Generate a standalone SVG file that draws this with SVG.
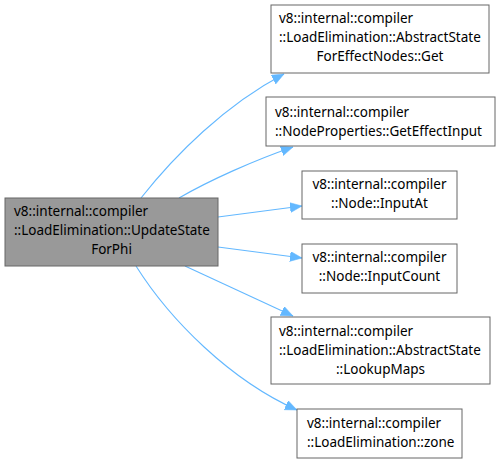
<svg xmlns="http://www.w3.org/2000/svg" width="499" height="464" viewBox="0 0 499 464">
<style>
.node rect{fill:#ffffff;stroke:#666666;stroke-width:1}
#main rect{fill:#999999}
text{font-family:"Noto Sans","Open Sans","DejaVu Sans",sans-serif;font-size:13.5px;fill:#000000}
.m{text-anchor:middle}
.edge{fill:none;stroke:#63b8ff;stroke-width:1.1;marker-end:url(#arr)}
</style>
<defs>
<marker id="arr" markerUnits="userSpaceOnUse" markerWidth="14" markerHeight="11" refX="12" refY="5" orient="auto">
<path d="M0,0 L12,5 L0,10 z" fill="#63b8ff" stroke="#63b8ff" stroke-width="0.5"/>
</marker>
</defs>
<g id="edges">
<path class="edge" d="M141,198 C175,155 225,105 284,74"/>
<path class="edge" d="M179,198 C210,180 255,160 293,147"/>
<path class="edge" d="M218,217 L302,206"/>
<path class="edge" d="M218,247 L302,258"/>
<path class="edge" d="M185,266 L293,316"/>
<path class="edge" d="M136,266 C170,320 230,380 297,410"/>
</g>
<g id="main" class="node">
<rect x="5" y="198" width="213" height="68"/>
<text x="14" y="216">v8::internal::compiler</text>
<text x="14" y="235">::LoadElimination::UpdateState</text>
<text class="m" x="111.5" y="254">ForPhi</text>
</g>
<g id="n1" class="node">
<rect x="271" y="5" width="218" height="68"/>
<text x="279" y="23">v8::internal::compiler</text>
<text x="279" y="42">::LoadElimination::AbstractState</text>
<text class="m" x="380" y="61">ForEffectNodes::Get</text>
</g>
<g id="n2" class="node">
<rect x="266" y="97" width="229" height="49"/>
<text x="275" y="117">v8::internal::compiler</text>
<text x="275" y="136">::NodeProperties::GetEffectInput</text>
</g>
<g id="n3" class="node">
<rect x="302" y="171" width="155" height="48"/>
<text class="m" x="379.5" y="189">v8::internal::compiler</text>
<text class="m" x="379.5" y="208">::Node::InputAt</text>
</g>
<g id="n4" class="node">
<rect x="302" y="244" width="155" height="49"/>
<text class="m" x="379.5" y="262">v8::internal::compiler</text>
<text class="m" x="379.5" y="281">::Node::InputCount</text>
</g>
<g id="n5" class="node">
<rect x="271" y="317" width="219" height="67"/>
<text x="279" y="336">v8::internal::compiler</text>
<text x="279" y="355">::LoadElimination::AbstractState</text>
<text class="m" x="380.5" y="374">::LookupMaps</text>
</g>
<g id="n6" class="node">
<rect x="297" y="409" width="165" height="49"/>
<text x="307" y="428">v8::internal::compiler</text>
<text x="307" y="447">::LoadElimination::zone</text>
</g>
</svg>
